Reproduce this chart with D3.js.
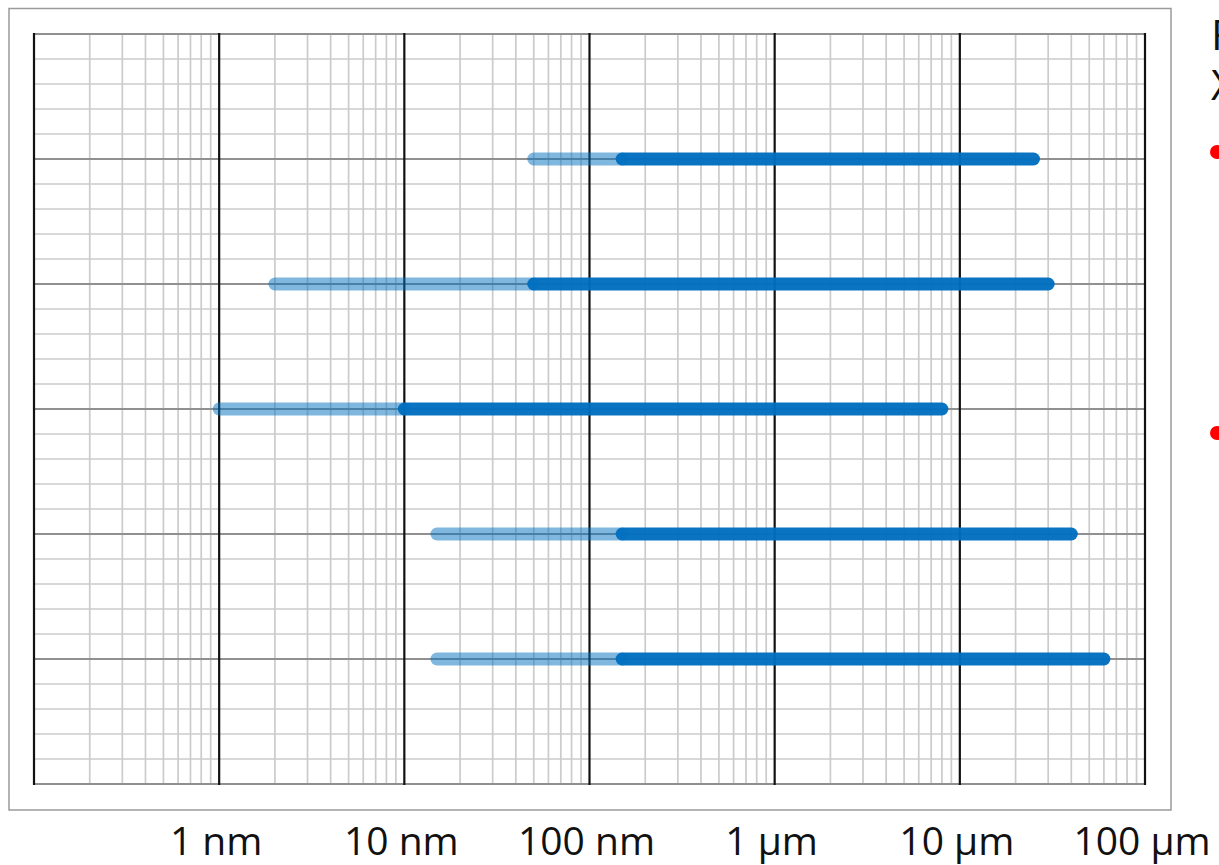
<!DOCTYPE html>
<html>
<head>
<meta charset="utf-8">
<script src="https://cdn.jsdelivr.net/npm/d3@7"></script>
<style>
  html, body { margin: 0; padding: 0; background: #fff; overflow: hidden; }
  svg { display: block; font-family: "Open Sans", "Noto Sans", sans-serif; }
</style>
</head>
<body>
<svg id="chart" width="1219" height="865"></svg>
<script>
// ranges, in nanometres, one entry per row (top to bottom)
const rows = [1, 2, 3, 4, 5];
const lightStart = [50, 2, 1, 15, 15];
const darkStart = [150, 50, 10, 150, 150];
const darkEnd = [25000, 30000, 8000, 40000, 60000];

// axis ticks
const tickValues = [1, 10, 100, 1000, 10000, 100000];
const tickLabels = ["1 nm", "10 nm", "100 nm", "1 µm", "10 µm", "100 µm"];

// side text (cut off by the page edge)
const sideLines = ["F", "X"];
const sideBullets = [0, 1];

const plot = {left: 34, right: 1145, top: 34, bottom: 784};

const svg = d3.select("#chart");

const x = d3.scaleLog()
    .domain([0.1, 100000])
    .range([plot.left, plot.right]);

// 6 major row intervals, each split into 5 minor steps
const y = d3.scaleLinear()
    .domain([0, 6])
    .range([plot.top, plot.bottom]);

// outer frame
svg.append("rect")
    .attr("x", 9).attr("y", 8.5)
    .attr("width", 1162).attr("height", 801.5)
    .attr("fill", "none")
    .attr("stroke", "#9a9a9a")
    .attr("stroke-width", 1.5);

const grid = svg.append("g");

// horizontal grid, minor then major
const hMinor = d3.range(0, 31).map(d => d / 5).filter((d, i) => i % 5 !== 0);
const hMajor = d3.range(0, 7);

grid.selectAll(".h-minor")
    .data(hMinor)
    .enter().append("line")
    .attr("class", "h-minor")
    .attr("x1", plot.left).attr("x2", plot.right)
    .attr("y1", d => y(d)).attr("y2", d => y(d))
    .attr("stroke", "#cbcbcb")
    .attr("stroke-width", 1.7);

// vertical minor lines (2..9 of each decade)
const vMinor = x.ticks().filter(d => {
    const m = d / Math.pow(10, Math.floor(Math.log10(d) + 1e-9));
    return Math.abs(m - 1) > 1e-6;
});

grid.selectAll(".v-minor")
    .data(vMinor)
    .enter().append("line")
    .attr("class", "v-minor")
    .attr("x1", d => x(d)).attr("x2", d => x(d))
    .attr("y1", plot.top).attr("y2", plot.bottom)
    .attr("stroke", "#cbcbcb")
    .attr("stroke-width", 1.7);

grid.selectAll(".h-major")
    .data(hMajor)
    .enter().append("line")
    .attr("class", "h-major")
    .attr("x1", plot.left).attr("x2", plot.right)
    .attr("y1", d => y(d)).attr("y2", d => y(d))
    .attr("stroke", "#909090")
    .attr("stroke-width", 1.8);

// decade lines
const decades = [0.1].concat(tickValues);
grid.selectAll(".v-major")
    .data(decades)
    .enter().append("line")
    .attr("class", "v-major")
    .attr("x1", d => x(d)).attr("x2", d => x(d))
    .attr("y1", plot.top - 1).attr("y2", plot.bottom + 1)
    .attr("stroke", "#111")
    .attr("stroke-width", 2.2);

// range bars
const bars = svg.append("g")
    .attr("stroke-linecap", "round")
    .attr("stroke-width", 13);

bars.selectAll(".light")
    .data(rows)
    .enter().append("line")
    .attr("class", "light")
    .attr("x1", (d, i) => x(lightStart[i]))
    .attr("x2", (d, i) => x(darkStart[i]))
    .attr("y1", d => y(d)).attr("y2", d => y(d))
    .attr("stroke", "#0070c0")
    .attr("stroke-opacity", 0.5);

bars.selectAll(".dark")
    .data(rows)
    .enter().append("line")
    .attr("class", "dark")
    .attr("x1", (d, i) => x(darkStart[i]))
    .attr("x2", (d, i) => x(darkEnd[i]))
    .attr("y1", d => y(d)).attr("y2", d => y(d))
    .attr("stroke", "#006ebf")
    .attr("stroke-opacity", 0.96);

// axis labels below the frame
svg.append("g")
    .selectAll("text")
    .data(tickValues)
    .enter().append("text")
    .attr("x", d => x(d) - 3)
    .attr("y", 855)
    .attr("text-anchor", "middle")
    .attr("font-size", 39)
    .attr("fill", "#111")
    .text((d, i) => tickLabels[i]);

// clipped side text
svg.append("g")
    .selectAll("text")
    .data(sideLines)
    .enter().append("text")
    .attr("x", 1211)
    .attr("y", (d, i) => 50 + i * 50)
    .attr("font-size", 42)
    .attr("fill", "#111")
    .text(d => d);

svg.append("g")
    .selectAll("circle")
    .data(sideBullets)
    .enter().append("circle")
    .attr("cx", 1217)
    .attr("cy", (d, i) => [152, 433][i])
    .attr("r", 7)
    .attr("fill", "#ff0000");
</script>
</body>
</html>
